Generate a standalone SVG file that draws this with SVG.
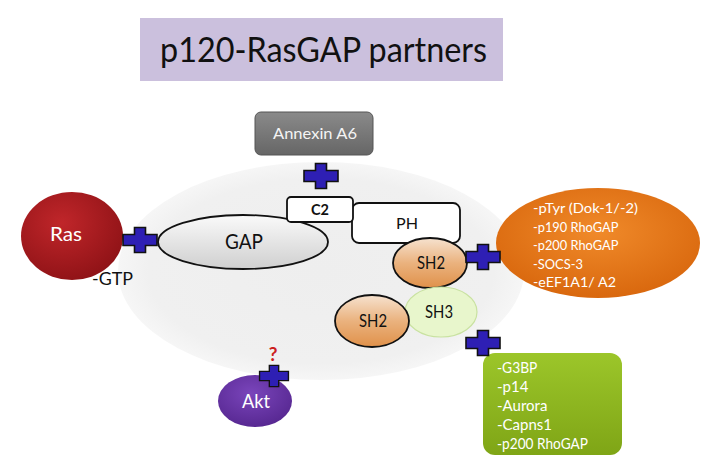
<svg xmlns="http://www.w3.org/2000/svg" width="716" height="467" viewBox="0 0 716 467">
<style>
text{font-family:Lato,"Liberation Sans",sans-serif}
.w{fill:#fff}
.k{fill:#111}
.plus{fill:#2e1fb4;stroke:#111;stroke-width:1.6}
.dom{stroke:#111;stroke-width:1.8}
</style>
<defs>
<path id="plus" d="M-5.5,-12.5 h11 v7 h11.5 v11 h-11.5 v7 h-11 v-7 h-11.5 v-11 h11.5 z"/>
<radialGradient id="gRas" cx="0.4" cy="0.35" r="0.7"><stop offset="0" stop-color="#c0262a"/><stop offset="1" stop-color="#8e1216"/></radialGradient>
<linearGradient id="gGap" x1="0" y1="0" x2="0" y2="1"><stop offset="0" stop-color="#fafafa"/><stop offset="1" stop-color="#cfcfcf"/></linearGradient>
<linearGradient id="gAnx" x1="0" y1="0" x2="0" y2="1"><stop offset="0" stop-color="#8a8a8a"/><stop offset="1" stop-color="#666"/></linearGradient>
<linearGradient id="gSH2" x1="0" y1="0" x2="0" y2="1"><stop offset="0" stop-color="#f6e2cf"/><stop offset="0.5" stop-color="#eab27e"/><stop offset="1" stop-color="#e0914a"/></linearGradient>
<radialGradient id="gOr" cx="0.5" cy="0.4" r="0.6"><stop offset="0" stop-color="#f08a2a"/><stop offset="1" stop-color="#d9680e"/></radialGradient>
<linearGradient id="gGr" x1="0" y1="0" x2="0" y2="1"><stop offset="0" stop-color="#9cc62a"/><stop offset="1" stop-color="#7fa516"/></linearGradient>
<radialGradient id="gAkt" cx="0.45" cy="0.35" r="0.7"><stop offset="0" stop-color="#7a45bb"/><stop offset="1" stop-color="#55268f"/></radialGradient>
<radialGradient id="gBg" cx="0.5" cy="0.5" r="0.5"><stop offset="0" stop-color="#eeeeee"/><stop offset="0.85" stop-color="#f0f0f0"/><stop offset="1" stop-color="#f6f6f6"/></radialGradient>
</defs>
<rect width="716" height="467" fill="#fff"/>
<g id="title">
<rect x="140" y="18" width="363" height="63" fill="#cbc0dd"/>
<text x="160" y="62" font-size="34" textLength="327" lengthAdjust="spacingAndGlyphs" class="k">p120-RasGAP partners</text>
</g>
<g id="background">
<ellipse cx="321" cy="271" rx="203" ry="109" fill="url(#gBg)"/>
</g>
<g id="annexin">
<rect x="255" y="112" width="118" height="43" rx="6" fill="url(#gAnx)" stroke="#555" stroke-width="1"/>
<text x="273" y="139" font-size="16" textLength="84" lengthAdjust="spacingAndGlyphs" fill="#f4f4f4">Annexin A6</text>
</g>
<g id="ras">
<ellipse cx="72" cy="236" rx="51" ry="44" fill="url(#gRas)"/>
<text x="50" y="241" font-size="19" textLength="32" lengthAdjust="spacingAndGlyphs" class="w">Ras</text>
<text x="92" y="285" font-size="17" textLength="41" lengthAdjust="spacingAndGlyphs" class="k">-GTP</text>
</g>
<g id="gap">
<ellipse cx="243" cy="242" rx="85" ry="27" fill="url(#gGap)" class="dom"/>
<text x="225" y="249" font-size="21" textLength="38" lengthAdjust="spacingAndGlyphs" class="k">GAP</text>
</g>
<g id="ph">
<rect x="352" y="203" width="108" height="40" rx="7" fill="#fff" class="dom"/>
<text x="396" y="229" font-size="16" textLength="22" lengthAdjust="spacingAndGlyphs" class="k">PH</text>
</g>
<g id="c2">
<rect x="287" y="197" width="66" height="25" rx="4" fill="#fff" class="dom"/>
<text x="311" y="215" font-size="15" font-weight="bold" textLength="18" lengthAdjust="spacingAndGlyphs" class="k">C2</text>
</g>
<g id="sh2a">
<ellipse cx="430" cy="263" rx="37" ry="25" fill="url(#gSH2)" class="dom"/>
<text x="417" y="269" font-size="18" textLength="28" lengthAdjust="spacingAndGlyphs" class="k">SH2</text>
</g>
<g id="sh3">
<ellipse cx="441" cy="312" rx="36" ry="25" fill="#e8f6cc" stroke="#c9e2a0" stroke-width="1.2"/>
<text x="425" y="318" font-size="18" textLength="28" lengthAdjust="spacingAndGlyphs" class="k">SH3</text>
</g>
<g id="sh2b">
<ellipse cx="372" cy="321" rx="37" ry="26" fill="url(#gSH2)" class="dom"/>
<text x="359" y="327" font-size="18" textLength="28" lengthAdjust="spacingAndGlyphs" class="k">SH2</text>
</g>
<g id="orange">
<ellipse cx="598" cy="243" rx="102" ry="55" fill="url(#gOr)"/>
<text font-size="14" class="w">
<tspan x="533" y="213" textLength="105" lengthAdjust="spacingAndGlyphs">-pTyr (Dok-1/-2)</tspan>
<tspan x="533" y="232" textLength="85" lengthAdjust="spacingAndGlyphs">-p190 RhoGAP</tspan>
<tspan x="533" y="250" textLength="85" lengthAdjust="spacingAndGlyphs">-p200 RhoGAP</tspan>
<tspan x="533" y="269" textLength="50" lengthAdjust="spacingAndGlyphs">-SOCS-3</tspan>
<tspan x="533" y="287" textLength="83" lengthAdjust="spacingAndGlyphs">-eEF1A1/ A2</tspan>
</text>
</g>
<g id="green">
<rect x="483" y="353" width="139" height="102" rx="12" fill="url(#gGr)"/>
<text font-size="15" class="w">
<tspan x="497" y="373" textLength="40" lengthAdjust="spacingAndGlyphs">-G3BP</tspan>
<tspan x="497" y="392">-p14</tspan>
<tspan x="497" y="411">-Aurora</tspan>
<tspan x="497" y="430">-Capns1</tspan>
<tspan x="497" y="449" textLength="91" lengthAdjust="spacingAndGlyphs">-p200 RhoGAP</tspan>
</text>
</g>
<g id="akt">
<ellipse cx="255" cy="401" rx="37" ry="26" fill="url(#gAkt)"/>
<text x="242" y="408" font-size="19" textLength="28" lengthAdjust="spacingAndGlyphs" class="w">Akt</text>
<text x="273" y="361" font-size="19" font-weight="bold" text-anchor="middle" fill="#cc1f1f">?</text>
</g>
<g id="connectors">
<use href="#plus" class="plus" x="140" y="240"/>
<use href="#plus" class="plus" x="321" y="176"/>
<use href="#plus" class="plus" x="483" y="257"/>
<use href="#plus" class="plus" x="483" y="343"/>
<use href="#plus" class="plus" transform="translate(274 376) scale(0.85)"/>
</g>
</svg>
